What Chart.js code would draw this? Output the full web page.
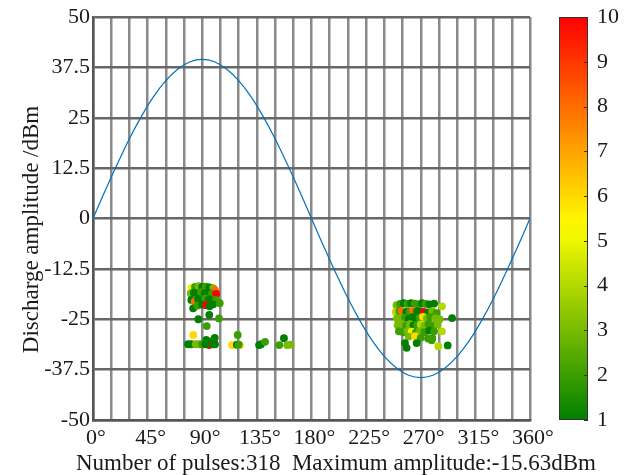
<!DOCTYPE html>
<html>
<head>
<meta charset="utf-8">
<script src="https://cdn.jsdelivr.net/npm/chart.js@4.4.1/dist/chart.umd.min.js"></script>
<style>
  html, body { margin: 0; padding: 0; background: #fff; }
  #wrap { width: 632px; height: 475px; }
</style>
</head>
<body>
<div id="wrap"><canvas id="prpd" width="632" height="475"></canvas></div>
<script>
// Axis ranges and ticks
const PHASE_TICKS = [0, 45, 90, 135, 180, 225, 270, 315, 360];
const AMP_TICKS = [-50, -37.5, -25, -12.5, 0, 12.5, 25, 37.5, 50];
const CB_TICKS = [1, 2, 3, 4, 5, 6, 7, 8, 9, 10];

const X_TITLE = 'Number of pulses:318  Maximum amplitude:-15.63dBm';
const Y_TITLE = 'Discharge amplitude /dBm';

// Reference sine (every 10 degrees)
const sinePhase = [0, 10, 20, 30, 40, 50, 60, 70, 80, 90, 100, 110, 120, 130, 140, 150, 160, 170, 180,
                   190, 200, 210, 220, 230, 240, 250, 260, 270, 280, 290, 300, 310, 320, 330, 340, 350, 360];
const sineAmp = [0, 6.9, 13.5, 19.8, 25.4, 30.3, 34.2, 37.1, 38.9, 39.5, 38.9, 37.1, 34.2, 30.3, 25.4, 19.8, 13.5, 6.9, 0,
                 -6.9, -13.5, -19.8, -25.4, -30.3, -34.2, -37.1, -38.9, -39.5, -38.9, -37.1, -34.2, -30.3, -25.4, -19.8, -13.5, -6.9, 0];

// Pulses: phase (deg), amplitude (dBm), count level (colour)
const pulsePhase = [
  // cluster near 90 deg
  81, 84, 87, 90, 93, 96, 99, 100.5,
  80.5, 83, 86, 89, 92, 95, 98, 101.5,
  81, 83.8, 86.5, 89.5, 92.5, 95.5, 98.5, 101,
  82.5, 86, 90, 93.3, 96, 99, 104.4,
  86.8, 95.8, 103.8, 93.7, 82.6, 100.3, 93.3, 97.5,
  95.6, 78.3, 81, 84.6, 87.3, 90, 92.5, 98.9, 100.5,
  114.5, 121, 118.5, 120, 119.2,
  136.8, 138.4, 141.7, 153.5, 157.3, 160, 162.9,
  // cluster near 270 deg
  250, 253, 256, 259, 262, 265, 268, 271, 274, 277, 281, 287.5,
  249.5, 252.5, 254.3, 258, 261, 263.6, 267, 270, 272.5, 276, 279.5, 283,
  250.5, 254, 257, 260, 263, 266, 269, 271.8, 275, 278, 282, 285.5, 295.8,
  251, 254.5, 258, 261, 264, 267, 270, 273, 276.5, 280, 284,
  252, 255.5, 259, 262.5, 266, 269.5, 273, 277, 281, 287.5,
  260, 265.3, 270, 276, 279.5,
  257, 258.4, 266.6, 279, 284.5, 292.2
];
const pulseAmp = [
  -17.2, -17, -16.8, -17, -16.9, -17.1, -17.3, -17.8,
  -18.6, -18.4, -18.6, -18.3, -18.5, -18.4, -18.7, -18.7,
  -20.2, -20.6, -20, -20.3, -19.8, -20.1, -20.4, -20.2,
  -22.3, -21.6, -21.4, -21.5, -21.8, -21.3, -21,
  -25, -23.9, -24.8, -26.7, -28.9, -29.6, -30.1, -30.5,
  -31.4, -31.2, -31.2, -31.2, -31.2, -31.2, -31.2, -31.2, -31.2,
  -31.4, -31.4, -31.3, -31.3, -28.9,
  -31.4, -31.2, -30.6, -31.4, -29.7, -31.4, -31.3,
  -21.5, -21.2, -21, -21.2, -21, -21.1, -21.3, -21, -21.2, -21.3, -21.1, -21.8,
  -23.2, -23, -22.9, -23.2, -23.1, -22.9, -23, -23.2, -23.2, -23.3, -23, -23.5,
  -24.8, -24.7, -24.6, -24.9, -24.5, -24.8, -24.6, -24.4, -24.8, -24.5, -24.8, -25, -24.7,
  -26.5, -26.3, -26.6, -26.2, -26.5, -26.4, -26.3, -26.6, -26.2, -26.6, -26.3,
  -28, -28.2, -27.9, -28.1, -28.3, -28, -28.2, -27.8, -28, -28,
  -29.3, -29.2, -29.6, -29.8, -29.7,
  -30.9, -32.1, -30.9, -30.2, -31.7, -31.5
];
const pulseLevel = [
  5, 2, 3, 1, 2, 1, 3, 8,
  3, 1, 1, 2, 1, 1, 2, 10,
  1, 8, 1, 1, 2, 1, 1, 2,
  1, 2, 1, 10, 1, 1, 2,
  1, 1, 2, 2, 6, 1, 1, 1,
  10, 1, 1, 3, 3, 2, 1, 1, 1,
  6, 6, 1, 2, 2,
  1, 1, 2, 2, 1, 3, 3,
  3, 2, 1, 2, 1, 2, 2, 1, 2, 1, 1, 4,
  4, 2, 8, 1, 2, 8, 1, 1, 10, 1, 3, 2,
  3, 3, 2, 1, 1, 1, 2, 6, 3, 2, 3, 3, 1,
  3, 3, 2, 3, 1, 2, 4, 3, 2, 2, 3,
  2, 2, 3, 5, 2, 3, 2, 1, 2, 4,
  3, 6, 2, 2, 2,
  1, 1, 1, 2, 4, 1
];

const CB_MIN = 1, CB_MAX = 10;
const YELLOW_AT = 0.478; // fraction of the colour bar where it turns pure yellow

function levelColor(v) {
  const t = Math.min(1, Math.max(0, (v - CB_MIN) / (CB_MAX - CB_MIN)));
  let r, g;
  if (t < YELLOW_AT) {
    const s = t / YELLOW_AT;
    r = 255 * s; g = 128 + 127 * s;
  } else {
    const s = (t - YELLOW_AT) / (1 - YELLOW_AT);
    r = 255; g = 255 * (1 - s);
  }
  return `rgb(${Math.round(r)},${Math.round(g)},0)`;
}

const FAMILY = '"Liberation Serif", "Times New Roman", serif';
const TICK_FONT = { family: FAMILY, size: 22 };
const TITLE_PX = 23;
const TEXT_COLOR = '#1a1a1a';

// fixed axis boxes so the plot area lands where the original one is
function fixBox(w, h) {
  return s => {
    if (w !== null) s.width = w;
    if (h !== null) s.height = h;
    s.paddingTop = 0; s.paddingBottom = 0;
    s.paddingLeft = 0; s.paddingRight = 0;
  };
}

// colour bar next to the plot (uses the 'cb' scale) and the two axis titles
const decorPlugin = {
  id: 'decor',
  afterDraw(chart) {
    const cb = chart.scales.cb;
    const area = chart.chartArea;
    const ctx = chart.ctx;
    const top = cb.getPixelForValue(CB_MAX);
    const bottom = cb.getPixelForValue(CB_MIN);
    const x0 = cb.left + 29, w = 29;
    const grad = ctx.createLinearGradient(0, bottom, 0, top);
    for (let i = 0; i <= 20; i++) {
      grad.addColorStop(i / 20, levelColor(CB_MIN + (CB_MAX - CB_MIN) * i / 20));
    }
    ctx.save();
    ctx.fillStyle = grad;
    ctx.fillRect(x0, top, w, bottom - top);
    ctx.strokeStyle = '#333';
    ctx.lineWidth = 1;
    ctx.strokeRect(x0 + 0.5, top + 0.5, w - 1, bottom - top - 1);
    ctx.beginPath();
    CB_TICKS.forEach(v => {
      const y = Math.round(cb.getPixelForValue(v)) + 0.5;
      ctx.moveTo(x0 + w - 4, y);
      ctx.lineTo(x0 + w, y);
    });
    ctx.stroke();

    // axis titles
    ctx.fillStyle = TEXT_COLOR;
    ctx.font = `${TITLE_PX}px ${FAMILY}`;
    ctx.textBaseline = 'alphabetic';
    ctx.textAlign = 'left';
    ctx.fillText(X_TITLE, area.left - 17, chart.height - 5);

    ctx.translate(38, (area.top + area.bottom) / 2 + 11);
    ctx.rotate(-Math.PI / 2);
    ctx.textAlign = 'center';
    ctx.fillText(Y_TITLE, 0, 0);
    ctx.restore();
  }
};

const ctx = document.getElementById('prpd').getContext('2d');
new Chart(ctx, {
  type: 'scatter',
  data: {
    datasets: [
      {
        type: 'line',
        data: sinePhase.map((p, i) => ({ x: p, y: sineAmp[i] })),
        borderColor: '#0072bd',
        borderWidth: 1.2,
        pointRadius: 0,
        tension: 0.4,
        fill: false,
        order: 2
      },
      {
        data: pulsePhase.map((p, i) => ({ x: p, y: pulseAmp[i] })),
        pointRadius: 3.9,
        pointBorderWidth: 0,
        pointBackgroundColor: c => levelColor(pulseLevel[c.dataIndex]),
        order: 1
      }
    ]
  },
  options: {
    responsive: false,
    animation: false,
    layout: { padding: { top: 17, right: 0, left: 0, bottom: 0 } },
    plugins: { legend: { display: false }, tooltip: { enabled: false } },
    scales: {
      x: {
        type: 'linear',
        min: 0, max: 360,
        afterBuildTicks: s => { s.ticks = []; for (let v = 0; v <= 360; v += 15) s.ticks.push({ value: v }); },
        afterFit: fixBox(null, 55),
        grid: { color: '#8a8a8a', lineWidth: 2.5, drawTicks: false },
        border: { color: '#555', width: 2.5 },
        ticks: {
          autoSkip: false, maxRotation: 0, padding: 5, labelOffset: 3,
          color: TEXT_COLOR, font: TICK_FONT,
          callback: v => PHASE_TICKS.includes(v) ? v + '°' : ''
        }
      },
      y: {
        type: 'linear',
        min: -50, max: 50,
        afterBuildTicks: s => { s.ticks = AMP_TICKS.map(v => ({ value: v })); },
        afterFit: fixBox(93, null),
        grid: { color: '#676767', lineWidth: 2.5, drawTicks: false },
        border: { color: '#555', width: 2.5 },
        ticks: { padding: 3, color: TEXT_COLOR, font: TICK_FONT }
      },
      cb: {
        type: 'linear',
        position: 'right',
        min: CB_MIN, max: CB_MAX,
        afterBuildTicks: s => { s.ticks = CB_TICKS.map(v => ({ value: v })); },
        afterFit: fixBox(102, null),
        grid: { display: false, drawTicks: false },
        border: { display: false },
        ticks: { padding: 67, color: TEXT_COLOR, font: TICK_FONT }
      }
    }
  },
  plugins: [decorPlugin]
});
</script>
</body>
</html>
